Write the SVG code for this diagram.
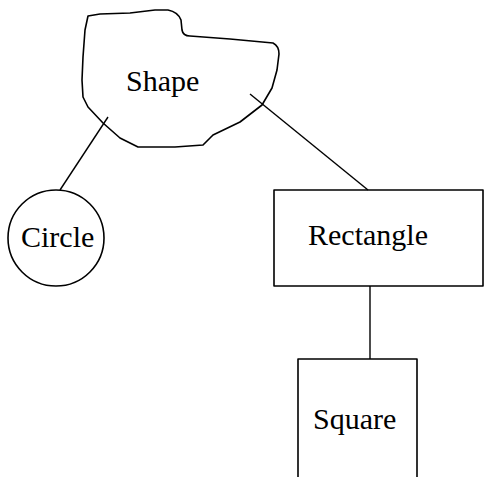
<svg xmlns="http://www.w3.org/2000/svg" width="484" height="477" viewBox="0 0 484 477">
<style>
.s{fill:#fff;stroke:#000;stroke-width:1.6;stroke-linejoin:round}
.c{stroke:#000;stroke-width:1.4;fill:none}
text{font-family:"Liberation Serif","Times New Roman",serif;font-size:30px;fill:#000}
</style>
<rect width="484" height="477" fill="#fff"/>
<g id="shape">
<path class="s" d="M88,16 L100,14 L130,13 L155,10 L168,10 Q178,12 181,20 L182,30 Q183,36 190,36 L230,39 L273,43 Q279,46 279,54 L277,70 L272,88 L262,105 L240,122 L213,135 L203,145 L175,147 L138,147 L120,138 L103,123 L88,107 L83,97 L82,80 L83,57 L85,30 Z"/>
<text x="126" y="91">Shape</text>
</g>
<g id="circle">
<circle class="s" cx="56" cy="238" r="48"/>
<text x="21" y="247">Circle</text>
</g>
<g id="rectangle">
<rect class="s" x="274" y="190" width="209" height="96"/>
<text x="308" y="245">Rectangle</text>
</g>
<g id="square">
<rect class="s" x="298" y="359" width="119" height="140"/>
<text x="313" y="429">Square</text>
</g>
<g id="connectors">
<line class="c" x1="108" y1="117" x2="60" y2="190"/>
<line class="c" x1="250" y1="94" x2="368" y2="190"/>
<line class="c" x1="370" y1="286" x2="370" y2="359"/>
</g>
</svg>
